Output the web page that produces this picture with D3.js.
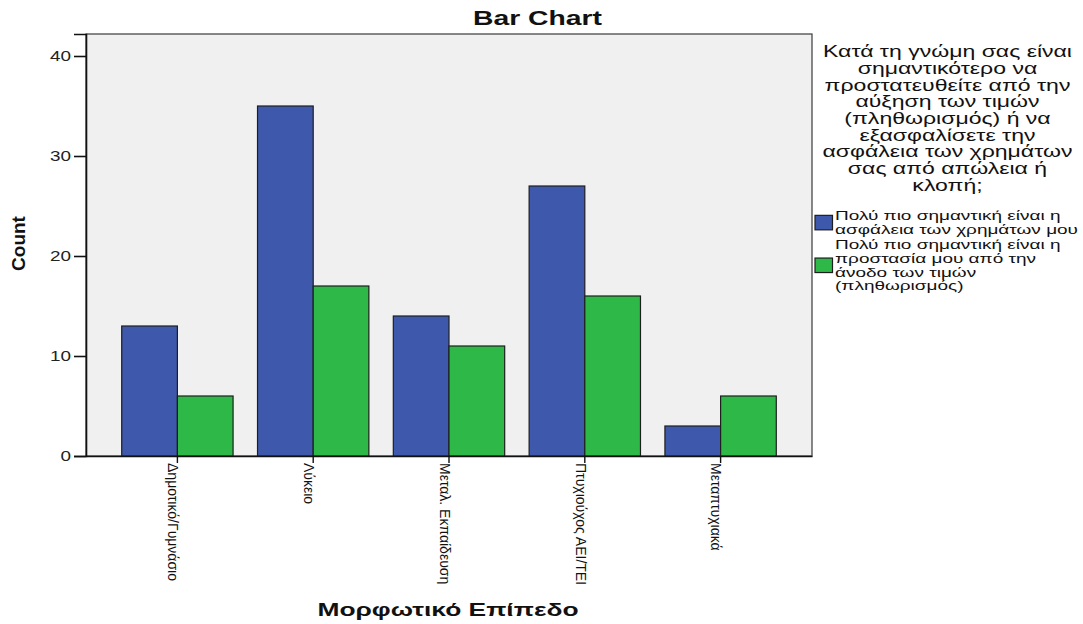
<!DOCTYPE html>
<html>
<head>
<meta charset="utf-8">
<script src="https://cdn.jsdelivr.net/npm/d3@7"></script>
<style>
  html, body { margin: 0; padding: 0; background: #ffffff; }
  svg { display: block; font-family: "Liberation Sans", Arial, sans-serif; }
</style>
</head>
<body>
<svg id="chart" width="1083" height="624"></svg>
<script>
// ---------- data ----------
const categories = ["Δημοτικό/Γυμνάσιο", "Λύκειο", "Μεταλ. Εκπαίδευση", "Πτυχιούχος ΑΕΙ/ΤΕΙ", "Μεταπτυχιακά"];
const seriesKeys = ["safety", "inflation"];
const safetyValues = [13, 35, 14, 27, 3];
const inflationValues = [6, 17, 11, 16, 6];
const yTickValues = [0, 10, 20, 30, 40];
const chartTitle = "Bar Chart";
const yAxisTitle = "Count";
const xAxisTitle = "Μορφωτικό Επίπεδο";
const legendTitleLines = [
  "Κατά τη γνώμη σας είναι",
  "σημαντικότερο να",
  "προστατευθείτε από την",
  "αύξηση των τιμών",
  "(πληθωρισμός) ή να",
  "εξασφαλίσετε την",
  "ασφάλεια των χρημάτων",
  "σας από απώλεια ή",
  "κλοπή;"
];
const safetyLabelLines = ["Πολύ πιο σημαντική είναι η", "ασφάλεια των χρημάτων μου"];
const inflationLabelLines = ["Πολύ πιο σημαντική είναι η", "προστασία μου από την", "άνοδο των τιμών", "(πληθωρισμός)"];
const seriesColors = ["#3e58ac", "#2eb848"];

// ---------- layout ----------
const svg = d3.select("#chart");
const plot = { left: 86, top: 34, right: 812, bottom: 456 };

const rows = categories.map((c, i) => ({ cat: c, safety: safetyValues[i], inflation: inflationValues[i] }));

const x0 = d3.scaleBand().domain(categories).range([plot.left, plot.right])
  .paddingInner(0.18).paddingOuter(0.263);
const x1 = d3.scaleBand().domain(seriesKeys).range([0, x0.bandwidth()]).padding(0);
const y = d3.scaleLinear().domain([0, 42.2]).range([plot.bottom, plot.top]);
const color = d3.scaleOrdinal().domain(seriesKeys).range(seriesColors);

function stretchTo(sel, target) {
  sel.each(function () {
    const w = this.getComputedTextLength();
    const t = typeof target === "function" ? target(w) : target;
    d3.select(this).attr("textLength", t).attr("lengthAdjust", "spacingAndGlyphs");
  });
}

// plot background
svg.append("rect")
  .attr("x", plot.left).attr("y", plot.top)
  .attr("width", plot.right - plot.left).attr("height", plot.bottom - plot.top)
  .attr("fill", "#f0f0f0").attr("stroke", "#3a3a3a").attr("stroke-width", 1.2);

// bars
const groups = svg.append("g").selectAll("g").data(rows).join("g")
  .attr("transform", d => `translate(${x0(d.cat)},0)`);
groups.selectAll("rect").data(d => seriesKeys.map(k => ({ key: k, value: d[k] }))).join("rect")
  .attr("x", d => x1(d.key))
  .attr("y", d => y(d.value))
  .attr("width", x1.bandwidth())
  .attr("height", d => y(0) - y(d.value))
  .attr("fill", d => color(d.key))
  .attr("stroke", "#1e1e1e").attr("stroke-width", 1.2);

// y axis
const yAxis = svg.append("g").attr("transform", `translate(${plot.left},0)`)
  .call(d3.axisLeft(y).tickValues(yTickValues).tickSize(12).tickPadding(3).tickFormat(d3.format("d")));
yAxis.select(".domain").attr("stroke", "#111").attr("stroke-width", 1.6);
yAxis.selectAll(".tick line").attr("stroke", "#111").attr("stroke-width", 1.6);
yAxis.selectAll(".tick text").attr("font-size", 15).attr("fill", "#222")
  .attr("font-family", "'Liberation Sans', Arial, sans-serif");
stretchTo(yAxis.selectAll(".tick text"), w => w * 1.26);

// x axis
const xAxis = svg.append("g").attr("transform", `translate(0,${plot.bottom})`)
  .call(d3.axisBottom(x0).tickSize(7).tickSizeOuter(0));
xAxis.select(".domain").attr("stroke", "#111").attr("stroke-width", 1.6);
xAxis.selectAll(".tick line").attr("stroke", "#111").attr("stroke-width", 1.4);
xAxis.selectAll(".tick text")
  .attr("font-size", 14).attr("fill", "#111")
  .attr("font-family", "'Liberation Sans', Arial, sans-serif")
  .attr("text-anchor", "start")
  .attr("transform", "translate(0,7) rotate(90)")
  .attr("x", 0).attr("y", 0).attr("dy", "0.66em");

// titles
const title = svg.append("text").attr("x", 537.5).attr("y", 25)
  .attr("text-anchor", "middle").attr("font-size", 20).attr("font-weight", "bold").attr("fill", "#111")
  .text(chartTitle);
stretchTo(title, 129);

svg.append("text").attr("transform", "translate(25,243.5) rotate(-90)")
  .attr("text-anchor", "middle").attr("font-size", 19).attr("font-weight", "bold").attr("fill", "#111")
  .text(yAxisTitle);

const xt = svg.append("text").attr("x", 448).attr("y", 616)
  .attr("text-anchor", "middle").attr("font-size", 19).attr("font-weight", "bold").attr("fill", "#111")
  .text(xAxisTitle);
stretchTo(xt, 261);

// legend title: one text element, one tspan per line
const ltText = svg.append("text").attr("text-anchor", "middle").attr("font-size", 16).attr("fill", "#111");
const lt = ltText.selectAll("tspan").data(legendTitleLines).join("tspan")
  .attr("x", 947.5).attr("y", (d, i) => 52 + i * 16.7).attr("dy", "0.33em")
  .text(d => d);
let ltFactor = 1;
lt.filter((d, i) => i === 0).each(function () { ltFactor = 249 / this.getComputedTextLength(); });
stretchTo(lt, w => w * ltFactor);

// legend items
const legendItems = [
  { key: "safety", lines: safetyLabelLines, first: 216 },
  { key: "inflation", lines: inflationLabelLines, first: 245 }
];
const lineStep = 13.7;
const lg = svg.append("g");
let liFactor = 1;
legendItems.forEach((item, idx) => {
  const n = item.lines.length;
  const mid = item.first + (n - 1) * lineStep / 2;
  lg.append("rect").attr("x", 815).attr("y", mid - 7.5).attr("width", 17.5).attr("height", 14.5)
    .attr("fill", color(item.key)).attr("stroke", "#1e1e1e").attr("stroke-width", 1.2);
  const tx = lg.append("text").attr("font-size", 12.5).attr("fill", "#111");
  const t = tx.selectAll("tspan").data(item.lines).join("tspan")
    .attr("x", 835).attr("y", (d, i) => item.first + i * lineStep).attr("dy", "0.33em")
    .text(d => d);
  if (idx === 0) t.filter((d, i) => i === 1).each(function () { liFactor = 243 / this.getComputedTextLength(); });
  stretchTo(t, w => w * liFactor);
});
</script>
</body>
</html>
